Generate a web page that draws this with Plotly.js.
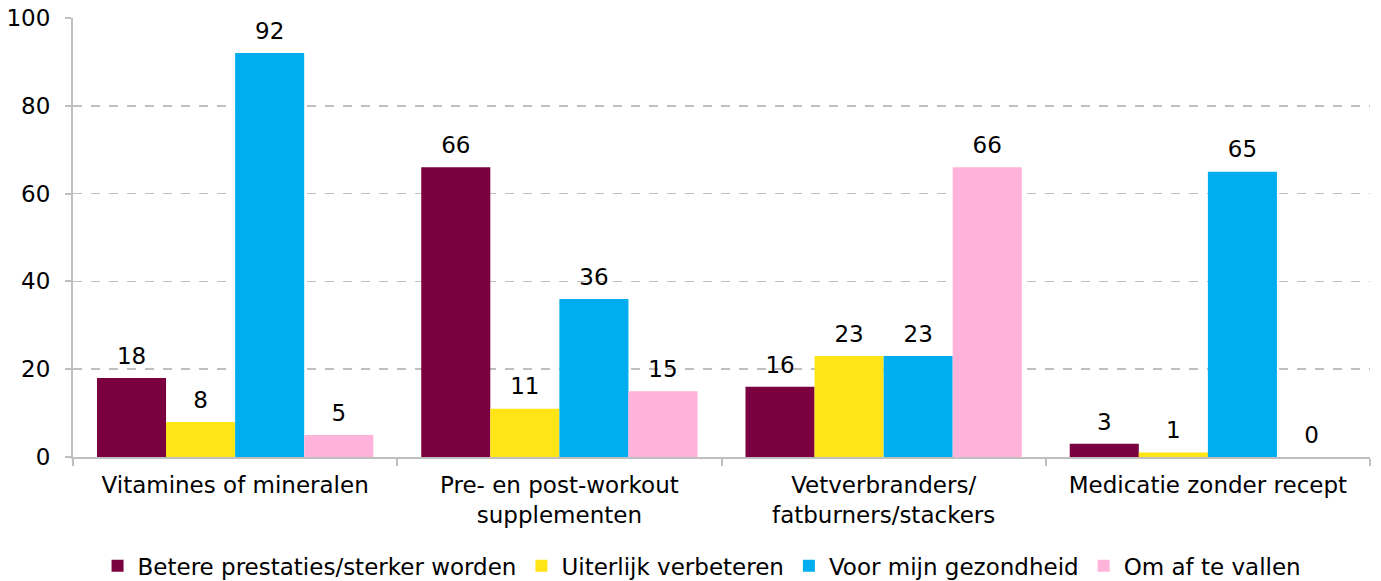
<!DOCTYPE html>
<html>
<head>
<meta charset="utf-8">
<script src="https://cdn.plot.ly/plotly-3.0.1.min.js"></script>
<style>html,body{margin:0;padding:0;background:#fff;}#chart{width:1381px;height:581px;}</style>
</head>
<body>
<div id="chart"></div>
<script>
const categories = ["Vitamines of mineralen", "Pre- en post-workout<br>supplementen", "Vetverbranders/<br>fatburners/stackers", "Medicatie zonder recept"];
const seriesNames = ["Betere prestaties/sterker worden", "Uiterlijk verbeteren", "Voor mijn gezondheid", "Om af te vallen"];
const betere = [18, 66, 16, 3];
const uiterlijk = [8, 11, 23, 1];
const gezondheid = [92, 36, 23, 65];
const afvallen = [5, 15, 66, 0];
const colors = ["#7B0040", "#FFE516", "#00AEEF", "#FFB3DB"];
const values = [betere, uiterlijk, gezondheid, afvallen];

const FONT = "DejaVu Sans, Verdana, sans-serif";
const bars = values.map((v, i) => ({
  type: "bar",
  name: seriesNames[i],
  x: categories,
  y: v,
  offsetgroup: "g" + i,
  marker: {color: colors[i], line: {width: 0}}
}));
const labels = values.map((v, i) => ({
  type: "scatter",
  mode: "markers+text",
  showlegend: false,
  x: categories,
  y: v,
  offsetgroup: "g" + i,
  marker: {size: 12, opacity: 0, color: colors[i]},
  text: v.map(String),
  textposition: "top center",
  textfont: {family: FONT, size: 23, color: "#000"},
  cliponaxis: false
}));

const layout = {
  width: 1381, height: 581,
  margin: {l: 73, r: 11, t: 18, b: 124, autoexpand: false},
  paper_bgcolor: "#fff", plot_bgcolor: "#fff",
  font: {family: FONT, size: 23, color: "#000"},
  barmode: "group",
  scattermode: "group",
  bargap: 0.148,
  scattergap: 0.148,
  bargroupgap: 0,
  showlegend: true,
  legend: {
    orientation: "h", x: 0.485, xanchor: "center",
    yref: "container", y: 0.026, yanchor: "middle",
    font: {family: FONT, size: 23, color: "#000"},
    itemwidth: 30, traceorder: "normal"
  },
  xaxis: {
    type: "category", automargin: false,
    showline: true, linecolor: "#BFBFBF", linewidth: 2,
    ticks: "outside", tickson: "boundaries", ticklen: 7, tickcolor: "#BFBFBF", tickwidth: 2,
    showgrid: false, zeroline: false,
    tickfont: {family: FONT, size: 23, color: "#000"},
    ticklabelstandoff: 6
  },
  yaxis: {
    range: [0, 100], dtick: 20, automargin: false,
    showline: true, linecolor: "#BFBFBF", linewidth: 2,
    ticks: "outside", ticklen: 6, tickcolor: "#BFBFBF", tickwidth: 2,
    showgrid: true, gridcolor: "#BFBFBF", gridwidth: 1.5, griddash: "dash",
    zeroline: false,
    tickfont: {family: FONT, size: 23, color: "#000"},
    ticklabelstandoff: 10
  }
};

Plotly.newPlot("chart", bars.concat(labels), layout, {displayModeBar: false, staticPlot: true});
</script>
</body>
</html>
